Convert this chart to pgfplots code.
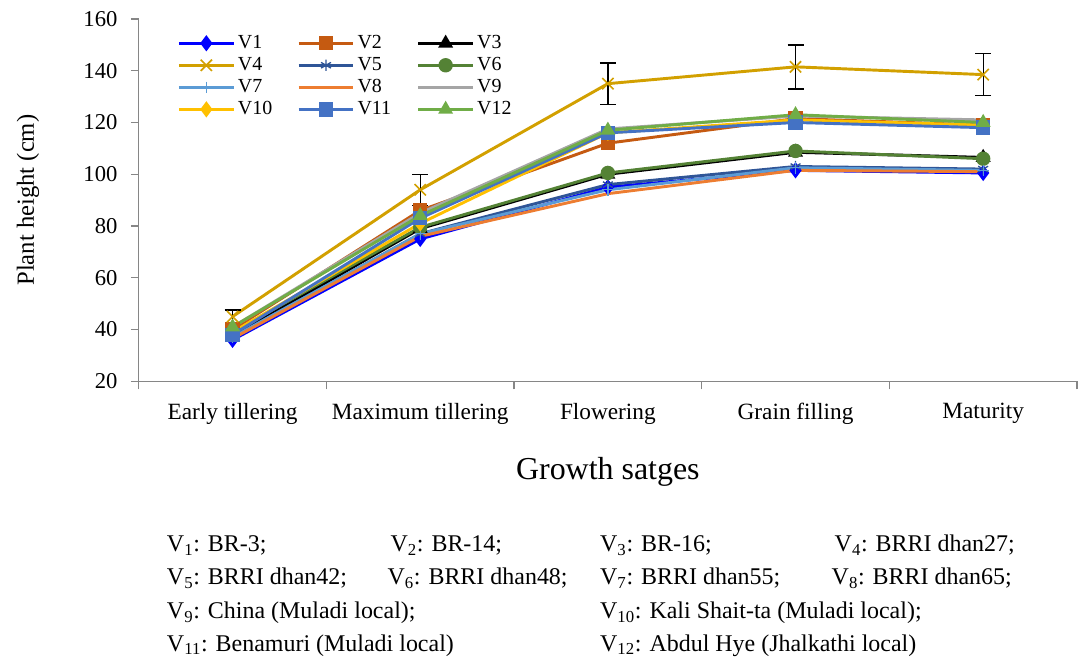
\documentclass[border=0pt]{standalone}
\usepackage{fontspec}
\setmainfont{Liberation Serif}
\usepackage{pgfplots}
\pgfplotsset{compat=1.18}

% series colours (Excel palette)
\definecolor{cV1}{RGB}{0,0,255}
\definecolor{cV2}{RGB}{197,90,17}
\definecolor{cV3}{RGB}{0,0,0}
\definecolor{cV4}{RGB}{210,160,0}
\definecolor{cV5}{RGB}{47,85,151}
\definecolor{cV6}{RGB}{84,130,53}
\definecolor{cV7}{RGB}{91,155,213}
\definecolor{cV8}{RGB}{237,125,49}
\definecolor{cV9}{RGB}{165,165,165}
\definecolor{cV10}{RGB}{255,192,0}
\definecolor{cV11}{RGB}{68,114,196}
\definecolor{cV12}{RGB}{112,173,71}
\definecolor{axisgray}{RGB}{134,134,134}

\newcommand{\legtxt}[1]{\makebox[42.5pt][l]{#1}}

\begin{document}
\begin{tikzpicture}
\path[use as bounding box] (-104.25pt,-211.5pt) rectangle (708.75pt,286.5pt);
\begin{axis}[
    at={(0,0)}, anchor=south west,
    scale only axis,
    width=705pt, height=272.25pt,
    xmin=-0.5, xmax=4.5,
    ymin=20, ymax=160,
    ytick={20,40,...,160},
    xtick={0,1,2,3,4},
    xticklabels={Early tillering, Maximum tillering, Flowering, Grain filling, Maturity},
    minor xtick={-0.5,0.5,1.5,2.5,3.5,4.5},
    major x tick style={draw=none},
    minor x tick style={axisgray, line width=0.9pt},
    minor tick length=6pt,
    major tick length=6pt,
    y tick style={axisgray, line width=0.9pt},
    tick align=outside,
    axis lines*=left,
    axis line style={axisgray, line width=0.9pt},
    /pgf/number format/assume math mode=true,
    yticklabel style={font=\fontsize{17}{19}\selectfont, xshift=-6.5pt},
    xticklabel style={font=\fontsize{17.5}{20}\selectfont, yshift=-7pt},
    ylabel={Plant height (cm)},
    ylabel style={at={(axis description cs:-0.118,0.5)}, anchor=center,
        font=\fontsize{18.5}{21}\selectfont},
    xlabel={Growth satges},
    xlabel style={at={(axis description cs:0.5,-0.25)}, anchor=center,
        font=\fontsize{24}{27}\selectfont},
    every axis plot/.append style={line width=2.2pt, mark size=4.3pt},
    legend columns=3,
    legend cell align=left,
    legend style={draw=none, fill=none, at={(axis description cs:0.041,0.962)},
        anchor=north west, font=\fontsize{15}{17}\selectfont,
        row sep=1.1pt, inner sep=0pt,
        /tikz/every even column/.append style={column sep=0pt}},
    legend image code/.code={\draw[mark repeat=2,mark phase=2]
        plot coordinates {(0pt,0pt) (20.6pt,0pt) (41.2pt,0pt)};},
]
\addplot[cV1, mark=diamond*] coordinates {(0,36) (1,75) (2,95) (3,101.5) (4,100.5)};
\addlegendentry{\legtxt{V1}}
\addplot[cV2, mark=square*] coordinates {(0,40) (1,86) (2,112) (3,121.5) (4,119)};
\addlegendentry{\legtxt{V2}}
\addplot[cV3, mark=triangle*] coordinates {(0,37.5) (1,79) (2,100) (3,108.5) (4,106.5)};
\addlegendentry{\legtxt{V3}}
\addplot[cV4, mark=x, mark size=6pt, mark options={line width=1.2pt},
    error bars/.cd, y dir=both, y explicit,
    error bar style={black, line width=1pt},
    error mark options={black, rotate=90, mark size=6pt, line width=1pt}]
    coordinates {(0,45) +- (0,2.5) (1,94) +- (0,6) (2,135) +- (0,8) (3,141.5) +- (0,8.5) (4,138.5) +- (0,8.2)};
\addlegendentry{\legtxt{V4}}
\addplot[cV5, mark=asterisk, mark options={line width=1pt}] coordinates {(0,37) (1,77) (2,96) (3,103) (4,102)};
\addlegendentry{\legtxt{V5}}
\addplot[cV6, mark=*] coordinates {(0,39) (1,79.5) (2,100.5) (3,109) (4,106)};
\addlegendentry{\legtxt{V6}}
\addplot[cV7, mark=+, mark options={line width=1pt}] coordinates {(0,37) (1,77) (2,94) (3,102.5) (4,101.5)};
\addlegendentry{\legtxt{V7}}
\addplot[cV8, no marks] coordinates {(0,36.5) (1,76) (2,92.5) (3,101.5) (4,101)};
\addlegendentry{\legtxt{V8}}
\addplot[cV9, no marks] coordinates {(0,41) (1,85) (2,117.5) (3,122.5) (4,121)};
\addlegendentry{\legtxt{V9}}
\addplot[cV10, mark=diamond*] coordinates {(0,39) (1,81) (2,116) (3,121) (4,119)};
\addlegendentry{\legtxt{V10}}
\addplot[cV11, mark=square*] coordinates {(0,38) (1,83) (2,116) (3,120) (4,118)};
\addlegendentry{\legtxt{V11}}
\addplot[cV12, mark=triangle*] coordinates {(0,41) (1,84) (2,117) (3,123) (4,120)};
\addlegendentry{\legtxt{V12}}
\end{axis}

\begin{scope}[every node/.style={anchor=base west, inner sep=0pt,
    font=\fontsize{18}{20}\selectfont}]
\node at (21pt,-128pt) {V\textsubscript{1}: BR-3;};
\node at (189pt,-128pt) {V\textsubscript{2}: BR-14;};
\node at (346.5pt,-128pt) {V\textsubscript{3}: BR-16;};
\node at (522.75pt,-128pt) {V\textsubscript{4}: BRRI dhan27;};
\node at (21pt,-153pt) {V\textsubscript{5}: BRRI dhan42;};
\node at (186.75pt,-153pt) {V\textsubscript{6}: BRRI dhan48;};
\node at (346.5pt,-153pt) {V\textsubscript{7}: BRRI dhan55;};
\node at (520.5pt,-153pt) {V\textsubscript{8}: BRRI dhan65;};
\node at (21pt,-178.5pt) {V\textsubscript{9}: China (Muladi local);};
\node at (346.5pt,-178.5pt) {V\textsubscript{10}: Kali Shait-ta (Muladi local);};
\node at (21pt,-203pt) {V\textsubscript{11}: Benamuri (Muladi local)};
\node at (346.5pt,-203pt) {V\textsubscript{12}: Abdul Hye (Jhalkathi local)};
\end{scope}
\end{tikzpicture}
\end{document}
